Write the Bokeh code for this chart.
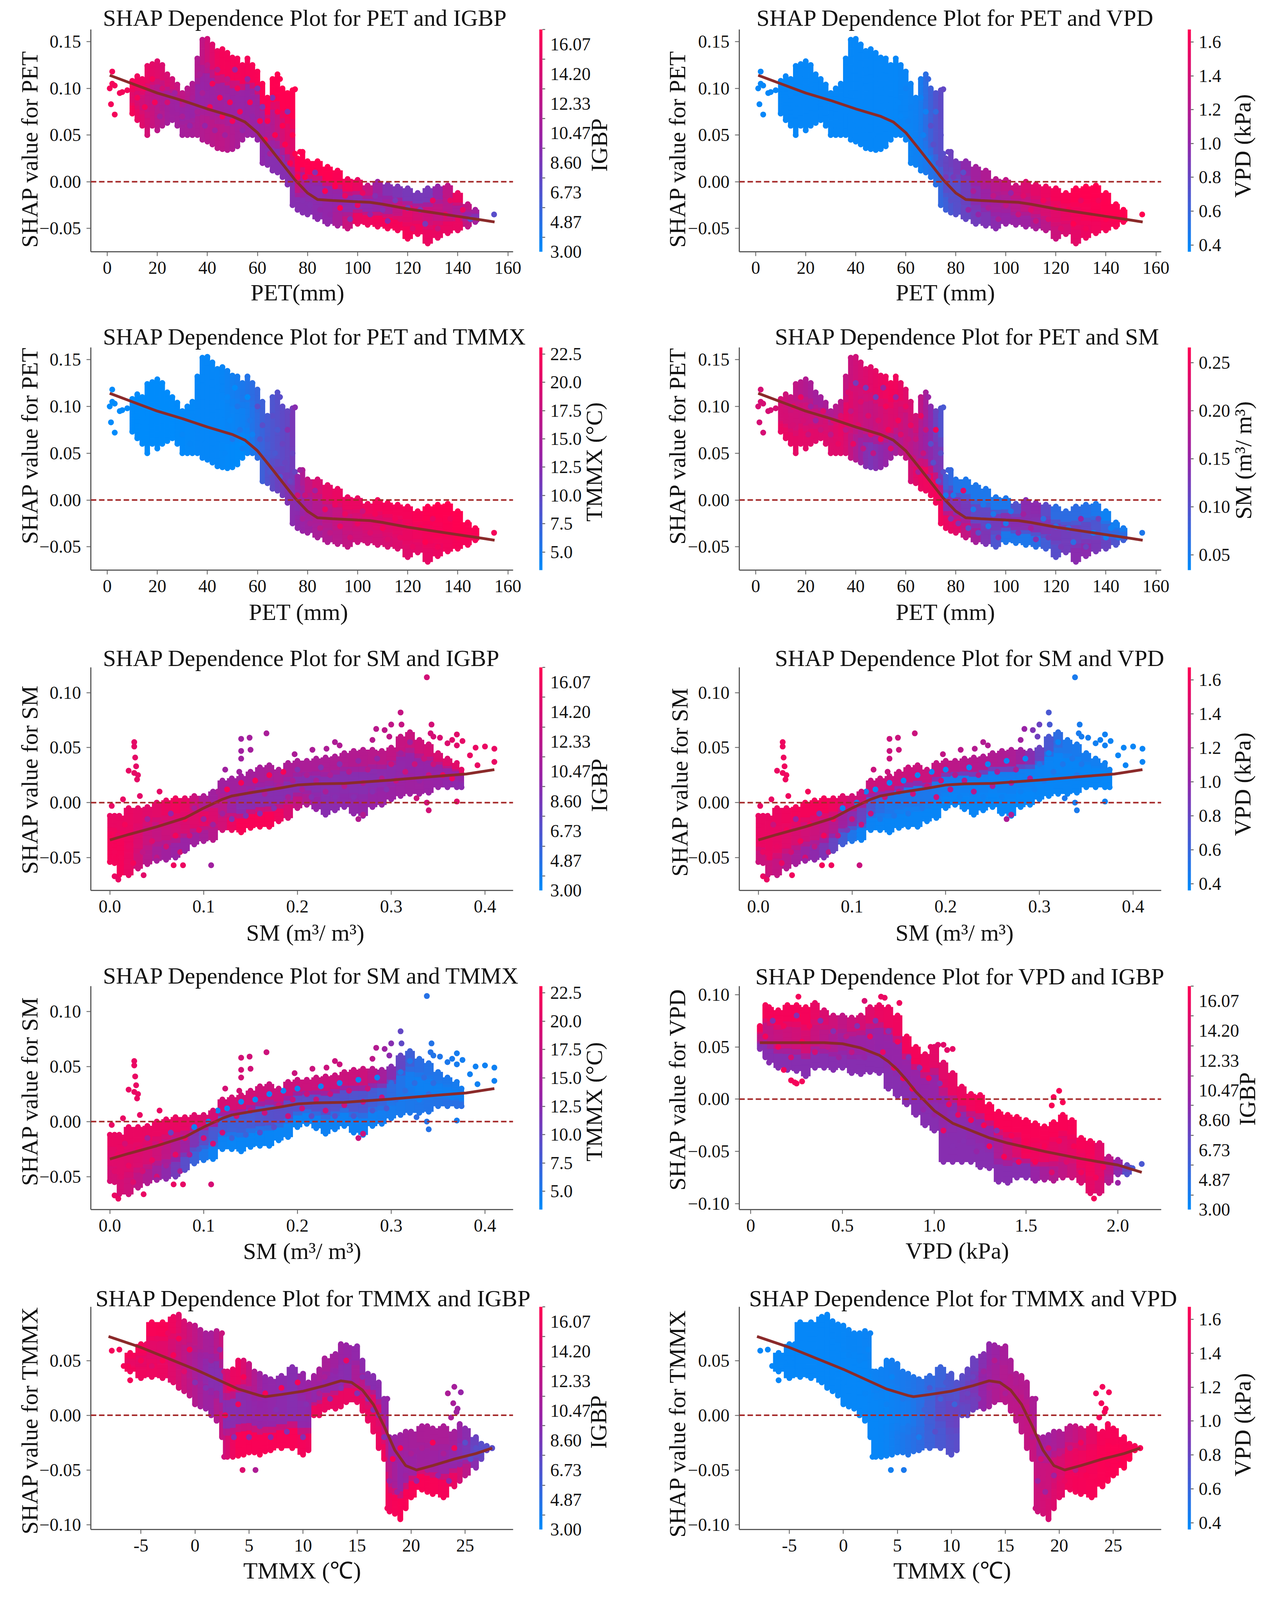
import numpy as np
from bokeh.embed import file_html
from bokeh.resources import INLINE
from bokeh.layouts import column, row
from bokeh.models import (ColumnDataSource, ColorBar, FixedTicker, Label, LinearColorMapper, Span)
from bokeh.plotting import figure
from bokeh.transform import transform

# ------------------ cloud outlines ------------------
PET_X = [10,12,14,16,18,20,22,24,26,28,30,32,34,36,38,40,42,44,46,48,50,52,54,56,58,60,62,64,66,68,70,72,74,76,78,80,84,88,92,96,100,104,108,112,116,120,124,128,132,136,140,144,147]
PET_HI = [.108,.113,.11,.124,.126,.129,.125,.115,.11,.104,.095,.10,.105,.132,.152,.153,.147,.14,.142,.138,.133,.132,.125,.132,.125,.118,.105,.09,.11,.112,.10,.095,.098,.025,.032,.022,.022,.016,.012,.003,.002,-.004,.0,-.003,-.005,-.007,-.012,-.007,-.005,-.004,-.012,-.024,-.03]
PET_LO = [.073,.066,.06,.05,.06,.055,.06,.063,.066,.06,.05,.05,.05,.05,.045,.043,.04,.036,.035,.034,.035,.038,.045,.05,.05,.045,.02,.018,.012,.01,.005,-.003,-.025,-.03,-.033,-.035,-.04,-.045,-.047,-.05,-.045,-.046,-.048,-.05,-.052,-.061,-.056,-.066,-.06,-.055,-.052,-.048,-.043]
PET_OUT_X = [1,1.5,2,2,3,3,5,6,8,154.5,77,68,69,70,72,75]
PET_OUT_Y = [.10,.083,.118,.105,.103,.072,.095,.096,.098,-.035,.032,.115,.11,.098,.094,.099]
PET_IN_X = [12,15,15,18,19,21,22,24,26,27,30,31,33,34,36,37,38,39,40,41,42,43,44,45,46,47,48,49,50,51,52,53,54,56,57,58,60,61,62,63,64,65,66,67,68,69,70,71,72,73,74,75,76,78,79,81,83,85,87,89,91,93,95,97,100,102,105,107,110,112,115,117,120,122,125,127,130,132,135,137,140,142,145]
PET_IN_Y = [.09,.08,.1,.11,.085,.07,.1,.085,.075,.095,.07,.085,.06,.09,.075,.115,.095,.06,.125,.08,.105,.055,.12,.09,.07,.05,.11,.085,.065,.12,.1,.075,.055,.11,.085,.07,.1,.065,.08,.045,.065,.03,.09,.05,.075,.025,.06,.04,.075,.02,.05,.03,.005,-.02,.005,-.025,.01,-.03,-.01,-.035,-.005,-.028,-.015,-.04,-.025,-.012,-.035,-.015,-.03,-.042,-.02,-.04,-.028,-.05,-.03,-.045,-.02,-.05,-.035,-.02,-.04,-.03,-.04]
PET_CURVE_X = [1,10,20,30,40,50,55,60,65,70,75,80,84,90,100,105,110,120,130,140,150,154.7]
PET_CURVE_Y = [.114,.105,.095,.087,.078,.07,.064,.0526,.036,.019,.002,-.012,-.019,-.02,-.0214,-.022,-.024,-.029,-.033,-.037,-.041,-.043]
PET_EDGES = [0,20,30,40,50,60,70,76,85,95,105,115,125,135,145,160]

SM_X = [0,.005,.01,.02,.03,.04,.05,.06,.07,.08,.09,.10,.11,.12,.13,.14,.15,.16,.17,.18,.19,.20,.21,.22,.23,.24,.25,.26,.27,.28,.29,.30,.31,.32,.33,.34,.35,.36,.37,.375]
SM_HI = [-.012,-.012,-.012,-.005,-.005,-.004,0,.002,.004,.004,.006,.006,.01,.02,.022,.024,.028,.032,.034,.03,.036,.038,.038,.04,.041,.042,.045,.047,.048,.048,.047,.05,.06,.064,.057,.053,.045,.04,.036,.03]
SM_LO = [-.054,-.055,-.066,-.066,-.06,-.056,-.053,-.052,-.05,-.044,-.038,-.035,-.034,-.025,-.025,-.027,-.023,-.022,-.022,-.017,-.014,-.005,-.002,-.006,-.011,-.007,-.004,-.01,-.012,-.004,-.002,.003,.006,.008,.008,.009,.014,.014,.014,.014]
SM_OUT_X = [.026,.026,.027,.028,.02,.026,.03,.029,.032,.014,.002,.053,.14,.14,.14,.149,.15,.167,.123,.138,.197,.216,.231,.24,.245,.284,.28,.30,.31,.311,.298,.293,.338,.343,.342,.345,.37,.37,.376,.39,.40,.41,.41,.392,.365,.352,.384,.36,.34,.338,.37,.327,.108,.068,.078,.009,.005,.036,.265,.27]
SM_OUT_Y = [.055,.051,.041,.033,.029,.027,.025,.021,.006,.003,-.003,.010,.058,.047,.040,.059,.048,.063,.030,.028,.044,.048,.049,.055,.052,.067,.057,.071,.082,.071,.060,.066,.114,.071,.063,.060,.062,.052,.056,.05,.051,.049,.037,.034,.057,.059,.043,.054,-.007,0,.001,.004,-.057,-.057,-.057,-.07,-.067,-.066,-.015,-.011]
SM_IN_X = [.005,.008,.012,.016,.02,.025,.03,.035,.04,.045,.05,.055,.06,.065,.07,.075,.08,.085,.09,.095,.1,.105,.11,.115,.12,.125,.13,.135,.14,.145,.15,.155,.16,.165,.17,.175,.18,.185,.19,.195,.2,.205,.21,.215,.22,.225,.23,.235,.24,.245,.25,.255,.26,.265,.27,.275,.28,.285,.29,.295,.3,.305,.31,.315,.32,.325,.33,.335,.34,.345,.355,.365]
SM_IN_Y = [-.045,-.03,-.05,-.02,-.04,-.055,-.025,-.045,-.015,-.035,-.05,-.02,-.04,-.01,-.03,-.045,-.015,-.03,-.005,-.025,-.015,0,-.02,.01,-.01,.012,-.015,.005,.018,-.012,.01,.02,-.01,.008,.025,-.005,.015,.028,.005,.02,.03,.012,.025,.005,.02,.032,.01,.025,.005,.035,.015,.028,.005,.038,.018,.03,.01,.04,.022,.012,.035,.02,.045,.028,.055,.035,.02,.04,.025,.035,.025,.022]
SM_CURVE_X = [0,.02,.05,.08,.1,.12,.13,.15,.18,.2,.22,.25,.3,.35,.38,.41]
SM_CURVE_Y = [-.034,-.029,-.022,-.014,-.005,.003,.006,.009,.013,.016,.017,.0175,.0205,.024,.026,.03]
SM_EDGES = [0,.03,.06,.09,.12,.15,.2,.25,.3,.35,.42]

VPD_X = [.05,.08,.1,.15,.2,.25,.3,.35,.4,.45,.5,.55,.6,.65,.7,.75,.8,.85,.9,.95,1.0,1.05,1.1,1.15,1.2,1.25,1.3,1.35,1.4,1.45,1.5,1.55,1.6,1.65,1.7,1.75,1.8,1.85,1.9,1.95,2.0,2.05]
VPD_HI = [.07,.09,.088,.085,.09,.09,.088,.092,.085,.08,.08,.078,.08,.088,.09,.088,.08,.06,.05,.043,.05,.035,.025,.012,.005,.004,-.005,-.012,-.015,-.017,-.02,-.023,-.026,-.022,-.015,-.02,-.037,-.04,-.042,-.055,-.058,-.063]
VPD_LO = [.048,.04,.035,.03,.028,.027,.022,.03,.03,.028,.03,.025,.024,.026,.025,.01,.003,-.005,-.015,-.025,-.03,-.06,-.06,-.06,-.06,-.065,-.066,-.079,-.08,-.075,-.075,-.078,-.077,-.078,-.075,-.075,-.08,-.09,-.09,-.08,-.072,-.072]
VPD_OUT_X = [2.13,2.08,2.0,1.87,.71,.26,.73,.62,.81,.25,.18,.22,.24,.28,1.68,1.65,1.64,1.7,1.07,1.05,1.1,1.02,.98]
VPD_OUT_Y = [-.062,-.066,-.08,-.095,.098,.098,.097,.094,.092,.015,.028,.018,.016,.017,.008,.002,-.006,-.003,.047,.052,.048,.052,.05]
VPD_IN_X = [.08,.12,.15,.18,.22,.25,.28,.32,.35,.38,.42,.45,.48,.52,.55,.58,.62,.65,.68,.72,.75,.78,.8,.83,.86,.88,.92,.94,.97,1.0,1.03,1.05,1.08,1.1,1.13,1.16,1.2,1.23,1.27,1.3,1.34,1.38,1.42,1.46,1.5,1.55,1.6,1.64,1.68,1.72,1.76,1.8,1.84,1.88,1.92]
VPD_IN_Y = [.06,.075,.05,.07,.04,.08,.055,.07,.045,.075,.05,.065,.04,.06,.045,.07,.04,.06,.075,.045,.065,.03,.055,.02,.04,.01,.03,-.01,.02,-.015,.015,-.03,-.005,-.045,-.015,-.04,-.02,-.05,-.025,-.045,-.03,-.055,-.035,-.06,-.04,-.06,-.045,-.07,-.04,-.06,-.045,-.07,-.055,-.075,-.065]
VPD_CURVE_X = [.05,.2,.4,.5,.6,.7,.75,.8,.85,.9,.95,1.0,1.05,1.1,1.2,1.3,1.4,1.5,1.6,1.8,1.9,2.0,2.13]
VPD_CURVE_Y = [.054,.054,.054,.053,.049,.042,.036,.028,.018,.007,-.002,-.011,-.017,-.023,-.03,-.037,-.042,-.046,-.05,-.057,-.06,-.063,-.07]
VPD_EDGES = [0,.2,.4,.6,.8,1.0,1.05,1.2,1.4,1.6,1.8,1.95,2.2]

TMMX_X = [-6,-5,-4,-3,-2,-1.5,-1,-.5,0,.5,1,1.5,2,2.5,2.7,3,3.5,4,4.5,5,5.5,6,6.5,7,8,9,10,10.5,11,11.5,12,13,13.5,14,15,15.5,16,16.5,17,17.5,17.8,18,18.5,19,19.5,20,21,21.5,22,23,24,24.5,25,26,26.5,27,27.5]
TMMX_HI = [.057,.065,.085,.085,.09,.092,.086,.083,.082,.078,.075,.075,.077,.075,.04,.04,.042,.05,.05,.047,.04,.038,.035,.033,.036,.044,.038,.03,.036,.042,.052,.056,.065,.064,.063,.05,.038,.036,.03,.015,.015,-.02,-.02,-.018,-.015,-.015,-.01,-.01,-.012,-.01,-.015,-.008,-.012,-.02,-.026,-.028,-.03]
TMMX_LO = [.04,.034,.035,.034,.03,.025,.022,.018,.01,.008,.006,0,-.005,-.02,-.038,-.038,-.038,-.037,-.036,-.034,-.034,-.036,-.033,-.032,-.03,-.03,-.036,-.032,0,0,.005,.006,.008,.012,.012,.004,-.005,-.015,-.03,-.04,-.085,-.088,-.09,-.095,-.085,-.075,-.068,-.07,-.072,-.075,-.065,-.06,-.055,-.048,-.04,-.032,-.03]
TMMX_OUT_X = [-7.7,-7,-6.6,-6.2,-6,4.4,5.6,24,24.6,23.4,23.9,24.3,23.7,24.2]
TMMX_OUT_Y = [.059,.060,.045,.045,.032,-.05,-.05,.026,.021,.02,.011,.006,-.002,.003]
TMMX_IN_X = [-5,-4.5,-4,-3.5,-3,-2.5,-2,-1.5,-1,-.5,0,.5,1,1.5,2,2.3,2.8,3.2,3.6,4,4.5,5,5.5,6,6.5,7,7.5,8,8.5,9,9.5,10,10.3,11.5,12,12.5,13,13.5,14,14.5,15,15.5,16,16.5,17,17.5,18,18.3,18.7,19,19.5,20,20.5,21,21.5,22,22.5,23,23.5,24,24.5,25,25.5,26]
TMMX_IN_Y = [.05,.065,.045,.07,.05,.075,.055,.07,.04,.06,.03,.055,.025,.05,.02,.06,0,.025,-.02,.01,.035,-.02,.015,-.01,.02,-.02,.005,.025,-.015,.015,.03,-.02,.01,.02,.035,.015,.04,.025,.05,.03,.02,.035,.015,.005,0,-.02,-.06,-.04,-.07,-.03,-.055,-.035,-.06,-.03,-.05,-.025,-.055,-.035,-.06,-.03,-.045,-.025,-.04,-.03]
TMMX_CURVE_X = [-8,-5,-2.5,0,2,4,6,6.5,8,10,12,13.5,14.5,15.5,16.5,17.5,18.5,19.5,20.5,22,24,26,27.5]
TMMX_CURVE_Y = [.072,.062,.052,.042,.033,.024,.018,.017,.019,.022,.027,.0315,.03,.023,.01,-.01,-.032,-.046,-.05,-.046,-.04,-.035,-.03]
TMMX_EDGES = [-9,-5,0,2.6,5,7.5,10.6,13,15.5,17.8,20,22.5,25,28]

# ------------------ colour of the cloud per panel: 0 blue ... 1 red ------------------
PET_IGBP_HI = [.95,.8,.6,.95,.95,1,1,1,1,.9,.45,.4,.4,.9,.3]
PET_IGBP_MID = [.85,.55,.5,.55,.5,.6,.9,.45,.5,.45,.5,.85,.75,.6,.3]
PET_IGBP_LO = [.95,.55,.6,.7,.55,.45,.45,.45,.5,.9,.95,.95,.9,.9,.3]
PET_VPD_HI = [.02,.02,.02,.02,.02,.05,.3,.4,.6,.7,.85,.95,1,1,1]
PET_VPD_MID = [.02,.02,.02,.02,.02,.05,.3,.3,.5,.6,.75,.85,.95,1,1]
PET_VPD_LO = [.02,.02,.02,.02,.02,.05,.15,.3,.4,.5,.55,.75,.9,.95,1]
PET_TMMX_HI = [0,0,.02,.02,.1,.25,.35,.75,.9,.9,.95,.95,1,1,.95]
PET_TMMX_MID = [0,0,.02,.02,.05,.25,.35,.6,.7,.8,.85,.9,.95,1,.95]
PET_TMMX_LO = [0,0,.02,.02,0,.3,.45,.55,.65,.75,.8,.85,.9,.95,.95]
PET_SM_HI = [.8,.55,.7,.85,.95,.75,.3,.1,.1,.1,.55,.15,.15,.05,.1]
PET_SM_MID = [.8,.75,.9,.7,.85,.6,.4,.45,.3,.45,.45,.4,.35,.2,.1]
PET_SM_LO = [.9,.85,.85,.4,.55,.9,.95,.85,.5,.1,.1,.3,.5,.35,.1]
SM_IGBP_HI = [.9,.85,.95,.55,.55,.6,.6,.65,.75,.9]
SM_IGBP_MID = [.95,.7,.8,.9,.45,.45,.45,.45,.5,.5]
SM_IGBP_LO = [.95,.6,.5,.6,.97,.97,.45,.5,.55,.45]
SM_VPD_HI = [.9,.95,.95,.75,.75,.75,.65,.6,.1,.03]
SM_VPD_MID = [.9,.8,.7,.4,.1,.1,.05,.05,.03,.02]
SM_VPD_LO = [.75,.55,.4,.05,.03,.03,.03,.02,.03,.02]
SM_TMMX_HI = [.9,.9,.9,.8,.8,.75,.75,.75,.15,.05]
SM_TMMX_MID = [.85,.8,.6,.25,.2,.3,.3,.25,.05,.05]
SM_TMMX_LO = [.8,.6,.35,.05,.03,.03,.05,.05,.1,.15]
VPD_IGBP_HI = [.95,.95,.7,.9,.95,.85,.9,.97,.97,.97,.95,.25]
VPD_IGBP_MID = [.7,.8,.55,.5,.5,.5,.45,.5,.95,.85,.95,.25]
VPD_IGBP_LO = [.45,.45,.45,.45,.45,.45,.45,.45,.45,.7,.9,.2]
TMMX_IGBP_HI = [.95,.97,.55,.95,.5,.45,.6,.5,.45,.55,.6,.6,.3]
TMMX_IGBP_MID = [.9,.85,.45,.45,.5,.45,.5,.45,.9,.5,.55,.5,.3]
TMMX_IGBP_LO = [.95,.9,.5,.97,.97,.97,.9,.9,.9,.97,.97,.95,.35]
TMMX_VPD_HI = [.02,.02,.03,.05,.1,.2,.35,.55,.65,.55,.7,.95,.97]
TMMX_VPD_MID = [.02,.02,.02,.03,.08,.3,.4,.6,.7,.75,.9,.97,1]
TMMX_VPD_LO = [.02,.02,.02,.03,.12,.25,.35,.65,.7,.8,.95,.97,1]

# ------------------ colour bars ------------------
IGBP_LABELS = ["3.00","4.87","6.73","8.60","10.47","12.33","14.20","16.07"]
IGBP_TICKS = [3.91,5.78,7.66,9.53,11.38,13.25,15.13,17.0]
VPD_LABELS = ["0.4","0.6","0.8","1.0","1.2","1.4","1.6"]
TMMX_LABELS = ["5.0","7.5","10.0","12.5","15.0","17.5","20.0","22.5"]
SM_LABELS = ["0.05","0.10","0.15","0.20","0.25"]

BARS = {
    "IGBP": dict(low=3.0, high=17.0, labels=IGBP_LABELS, minor=IGBP_TICKS),
    "VPD": dict(low=0.36, high=1.674, labels=VPD_LABELS, minor=None),
    "TMMX": dict(low=3.4, high=23.08, labels=TMMX_LABELS, minor=None),
    "SM": dict(low=0.034, high=0.266, labels=SM_LABELS, minor=None),
}

CLOUDS = {
    "PET": dict(x=PET_X, hi=PET_HI, lo=PET_LO, ox=PET_OUT_X, oy=PET_OUT_Y, ix=PET_IN_X, iy=PET_IN_Y, cx=PET_CURVE_X, cy=PET_CURVE_Y, edges=PET_EDGES,
                xr=(-6.55,162.1), yr=(-.0749,.163), xt=[0,20,40,60,80,100,120,140,160], xl=["0","20","40","60","80","100","120","140","160"],
                yt=[-.05,0,.05,.10,.15], yl=["\u22120.05","0.00","0.05","0.10","0.15"]),
    "SM": dict(x=SM_X, hi=SM_HI, lo=SM_LO, ox=SM_OUT_X, oy=SM_OUT_Y, ix=SM_IN_X, iy=SM_IN_Y, cx=SM_CURVE_X, cy=SM_CURVE_Y, edges=SM_EDGES,
               xr=(-.0203,.430), yr=(-.0799,.123), xt=[0,.1,.2,.3,.4], xl=["0.0","0.1","0.2","0.3","0.4"],
               yt=[-.05,0,.05,.10], yl=["\u22120.05","0.00","0.05","0.10"]),
    "VPD": dict(x=VPD_X, hi=VPD_HI, lo=VPD_LO, ox=VPD_OUT_X, oy=VPD_OUT_Y, ix=VPD_IN_X, iy=VPD_IN_Y, cx=VPD_CURVE_X, cy=VPD_CURVE_Y, edges=VPD_EDGES,
                xr=(-.062,2.236), yr=(-.1056,.1081), xt=[0,.5,1,1.5,2], xl=["0","0.5","1.0","1.5","2.0"],
                yt=[-.10,-.05,0,.05,.10], yl=["\u22120.10","\u22120.05","0.00","0.05","0.10"]),
    "TMMX": dict(x=TMMX_X, hi=TMMX_HI, lo=TMMX_LO, ox=TMMX_OUT_X, oy=TMMX_OUT_Y, ix=TMMX_IN_X, iy=TMMX_IN_Y, cx=TMMX_CURVE_X, cy=TMMX_CURVE_Y, edges=TMMX_EDGES,
                 xr=(-9.64,29.44), yr=(-.1044,.0991), xt=[-5,0,5,10,15,20,25], xl=["-5","0","5","10","15","20","25"],
                 yt=[-.10,-.05,0,.05], yl=["\u22120.10","\u22120.05","0.00","0.05"]),
}

SM_UNIT = "SM (m\u00b3/ m\u00b3)"
TMMX_UNIT = "TMMX (\u2103)"
PANELS = [
 dict(t="SHAP Dependence Plot for PET and IGBP", f="PET", bar="IGBP", c=(PET_IGBP_LO,PET_IGBP_MID,PET_IGBP_HI), xlab="PET(mm)", ylab="SHAP value for PET", blab="IGBP",
      tp=(271,53), xp=(769,816), yp=(83,422), bp=(1541,411)),
 dict(t="SHAP Dependence Plot for PET and VPD", f="PET", bar="VPD", c=(PET_VPD_LO,PET_VPD_MID,PET_VPD_HI), xlab="PET (mm)", ylab="SHAP value for PET", blab="VPD (kPa)",
      tp=(1944,53), xp=(2428,816), yp=(1741,422), bp=(3188,414)),
 dict(t="SHAP Dependence Plot for PET and TMMX", f="PET", bar="TMMX", c=(PET_TMMX_LO,PET_TMMX_MID,PET_TMMX_HI), xlab="PET (mm)", ylab="SHAP value for PET", blab="TMMX (\u00b0C)",
      tp=(271,939), xp=(772,1705), yp=(83,1246), bp=(1528,1292)),
 dict(t="SHAP Dependence Plot for PET and SM", f="PET", bar="SM", c=(PET_SM_LO,PET_SM_MID,PET_SM_HI), xlab="PET (mm)", ylab="SHAP value for PET", blab=SM_UNIT,
      tp=(1991,939), xp=(2428,1705), yp=(1741,1248), bp=(3190,1288)),
 dict(t="SHAP Dependence Plot for SM and IGBP", f="SM", bar="IGBP", c=(SM_IGBP_LO,SM_IGBP_MID,SM_IGBP_HI), xlab=SM_UNIT, ylab="SHAP value for SM", blab="IGBP",
      tp=(271,1833), xp=(789,2596), yp=(83,2175), bp=(1541,2191)),
 dict(t="SHAP Dependence Plot for SM and VPD", f="SM", bar="VPD", c=(SM_VPD_LO,SM_VPD_MID,SM_VPD_HI), xlab=SM_UNIT, ylab="SHAP value for SM", blab="VPD (kPa)",
      tp=(1991,1833), xp=(2451,2596), yp=(1747,2181), bp=(3188,2188)),
 dict(t="SHAP Dependence Plot for SM and TMMX", f="SM", bar="TMMX", c=(SM_TMMX_LO,SM_TMMX_MID,SM_TMMX_HI), xlab=SM_UNIT, ylab="SHAP value for SM", blab="TMMX (\u00b0C)",
      tp=(271,2716), xp=(781,3481), yp=(83,3041), bp=(1528,3071)),
 dict(t="SHAP Dependence Plot for VPD and IGBP", f="VPD", bar="IGBP", c=(VPD_IGBP_LO,VPD_IGBP_MID,VPD_IGBP_HI), xlab="VPD (kPa)", ylab="SHAP value for VPD", blab="IGBP",
      tp=(1941,2718), xp=(2458,3480), yp=(1741,3036), bp=(3200,3063)),
 dict(t="SHAP Dependence Plot for TMMX and IGBP", f="TMMX", bar="IGBP", c=(TMMX_IGBP_LO,TMMX_IGBP_MID,TMMX_IGBP_HI), xlab=TMMX_UNIT, ylab="SHAP value for TMMX", blab="IGBP",
      tp=(252,3612), xp=(781,4369), yp=(83,3955), bp=(1539,3961)),
 dict(t="SHAP Dependence Plot for TMMX and VPD", f="TMMX", bar="VPD", c=(TMMX_VPD_LO,TMMX_VPD_MID,TMMX_VPD_HI), xlab=TMMX_UNIT, ylab="SHAP value for TMMX", blab="VPD (kPa)",
      tp=(1925,3612), xp=(2445,4369), yp=(1741,3964), bp=(3188,3969)),
]

# ------------------ page geometry ------------------
# The capture stops near 4096 px, so every vertical position is squeezed to keep the whole chart on it.
SQUEEZE = 0.921
def sq(v):
    return int(round(v*SQUEEZE))
COLS = [dict(start=8, end=1658, left=240, right=1321, bar=1388), dict(start=1658, end=3243, left=1900, right=2980, bar=3048)]
ROWS = [dict(start=8, end=sq(868), top=sq(90), bottom=sq(708)), dict(start=sq(868), end=sq(1770), top=sq(974), bottom=sq(1593)),
        dict(start=sq(1770), end=sq(2655), top=sq(1863), bottom=sq(2483)), dict(start=sq(2655), end=sq(3545), top=sq(2749), bottom=sq(3370)),
        dict(start=sq(3545), end=sq(4422), top=sq(3641), bottom=sq(4260))]
# how far the stacked side panels reach from the frame (tick area + one label)
LEFT_REACH = 200
BELOW_REACH = 121

STOPS = [(0,139,251), (150,36,168), (255,0,81)]
def make_palette():
    out = []
    for i in range(256):
        t = i/255*2
        k = min(int(t), 1)
        a, b = STOPS[k], STOPS[k+1]
        f = t-k
        out.append("#%02x%02x%02x" % tuple(int(round(a[j]+(b[j]-a[j])*f)) for j in range(3)))
    return out
PALETTE = make_palette()
SERIF = "Liberation Serif"
BAND = [0.0, 0.30, 0.70, 1.0]
LAYER_STOPS = [0, .22, .38, .62, .78, 1]
LAYERS = 12

def tints(vals):
    return [PALETTE[int(np.clip(v, 0, 1)*255)] for v in vals]

def build(cfg, col, rw):
    d = CLOUDS[cfg["f"]]
    p = figure(width=col["end"]-col["start"], height=rw["end"]-rw["start"], output_backend="svg", toolbar_location=None,
               x_range=d["xr"], y_range=d["yr"], min_border_left=col["left"]-col["start"], min_border_right=col["end"]-col["right"],
               min_border_top=rw["top"]-rw["start"], min_border_bottom=rw["end"]-rw["bottom"], background_fill_color="white",
               border_fill_color="white", outline_line_color=None)
    p.grid.visible = False
    for ax, ticks, labels in ((p.xaxis[0], d["xt"], d["xl"]), (p.yaxis[0], d["yt"], d["yl"])):
        ax.ticker = FixedTicker(ticks=ticks)
        ax.major_label_overrides = dict(zip(ticks, labels))
        ax.major_label_text_font = SERIF
        ax.major_label_text_font_size = "46px"
        ax.major_label_text_color = "#111111"
        ax.axis_line_color = "#5a5a5a"; ax.axis_line_width = 3
        ax.major_tick_line_color = "#5a5a5a"; ax.major_tick_line_width = 2
        ax.major_tick_in = 0; ax.major_tick_out = 11
        ax.minor_tick_line_color = None
        ax.major_label_standoff = 14
    mapper = LinearColorMapper(palette=PALETTE, low=0, high=1)

    x = np.array(d["x"], float); lo = np.array(d["lo"], float); hi = np.array(d["hi"], float)
    mids = (x[1:]+x[:-1])/2
    left = np.r_[x[0]-(mids[0]-x[0]), mids]; right = np.r_[mids, x[-1]+(x[-1]-mids[-1])]
    edges = np.array(d["edges"], float)
    centers = (edges[1:]+edges[:-1])/2
    c_lo, c_mid, c_hi = [np.interp(x, centers, np.array(a, float)) for a in cfg["c"]]
    for k in range(LAYERS):
        f0, f1 = k/LAYERS, (k+1)/LAYERS
        fm = (f0+f1)/2
        if fm < LAYER_STOPS[1]:
            c = c_lo
        elif fm < LAYER_STOPS[2]:
            w = (fm-LAYER_STOPS[1])/(LAYER_STOPS[2]-LAYER_STOPS[1]); c = c_lo*(1-w)+c_mid*w
        elif fm < LAYER_STOPS[3]:
            c = c_mid
        elif fm < LAYER_STOPS[4]:
            w = (fm-LAYER_STOPS[3])/(LAYER_STOPS[4]-LAYER_STOPS[3]); c = c_mid*(1-w)+c_hi*w
        else:
            c = c_hi
        src = ColumnDataSource(dict(l=left, r=right, b=lo+(hi-lo)*f0, t=lo+(hi-lo)*f1, c=c))
        p.quad(left="l", right="r", bottom="b", top="t", source=src, fill_color=transform("c", mapper), line_color=transform("c", mapper), line_width=1)

    # inner points: painted with the neighbouring band's colour, so the mixture shows
    ix = np.array(d["ix"], float); iy = np.array(d["iy"], float)
    lo_i = np.interp(ix, x, lo); hi_i = np.interp(ix, x, hi)
    frac = np.clip((iy-lo_i)/np.maximum(hi_i-lo_i, 1e-9), 0, .999)
    band = np.searchsorted(BAND, frac, side="right")-1
    iseg = np.clip(np.searchsorted(edges, ix, side="right")-1, 0, len(edges)-2)
    ic = [cfg["c"][(b+1) % 3][s] for b, s in zip(band, iseg)]
    p.scatter(ix.tolist(), iy.tolist(), size=15, line_color=None, fill_color=tints(ic))

    # outline points and outliers
    p.scatter(x.tolist(), lo.tolist(), size=15, line_color=None, fill_color=tints(c_lo))
    p.scatter(x.tolist(), hi.tolist(), size=15, line_color=None, fill_color=tints(c_hi))
    ox = np.array(d["ox"], float)
    oc = np.interp(ox, centers, np.array(cfg["c"][2], float))
    p.scatter(ox.tolist(), list(d["oy"]), size=15, line_color=None, fill_color=tints(oc))

    p.add_layout(Span(location=0, dimension="width", line_color="#a52a2a", line_width=4, line_dash="14 7"))
    p.line(d["cx"], d["cy"], line_color="#8b2a2a", line_width=7)

    # colour bar
    b = BARS[cfg["bar"]]
    bmap = LinearColorMapper(palette=PALETTE, low=b["low"], high=b["high"])
    vals = [float(v) for v in b["labels"]]
    ticker = FixedTicker(ticks=vals, minor_ticks=b["minor"] or [])
    cb = ColorBar(color_mapper=bmap, ticker=ticker, major_label_overrides=dict(zip(vals, b["labels"])),
                  location=(col["bar"]-col["left"], 0), width=8, height=rw["bottom"]-rw["top"], padding=0,
                  background_fill_color=None, border_line_color=None, bar_line_color=None,
                  major_label_text_font=SERIF, major_label_text_font_size="46px", major_label_text_color="#111111",
                  major_tick_line_color=None if b["minor"] else "#444444", major_tick_in=0, major_tick_out=7, major_tick_line_width=2,
                  minor_tick_line_color="#444444" if b["minor"] else None, minor_tick_in=0, minor_tick_out=7, minor_tick_line_width=2,
                  label_standoff=13)
    p.add_layout(cb)

    def lab(text, x, y, side, angle=0, align="center"):
        p.add_layout(Label(x=x, y=y, x_units="screen", y_units="screen", text=text, text_font=SERIF, text_font_size="60px",
                           text_color="#111111", text_align=align, text_baseline="middle", angle=angle, angle_units="deg"), side)
    lab(cfg["t"], cfg["tp"][0]-col["left"], rw["top"]-sq(cfg["tp"][1])-4, "above", align="left")
    lab(cfg["xlab"], cfg["xp"][0]-col["left"], rw["bottom"]+BELOW_REACH-sq(cfg["xp"][1]), "below")
    lab(cfg["ylab"], cfg["yp"][0]-(col["left"]-LEFT_REACH), rw["bottom"]-sq(cfg["yp"][1]), "left", angle=90)
    lab(cfg["blab"], cfg["bp"][0]-col["right"], rw["bottom"]-sq(cfg["bp"][1]), "right", angle=90)
    return p

order = [[0,1],[2,3],[4,5],[6,7],[8,9]]
rows = []
for r, pair in enumerate(order):
    rows.append(row(*[build(PANELS[i], COLS[c], ROWS[r]) for c, i in enumerate(pair)], spacing=0))
page = column(*rows, spacing=0)
open("out.html", "w").write(file_html(page, INLINE))
